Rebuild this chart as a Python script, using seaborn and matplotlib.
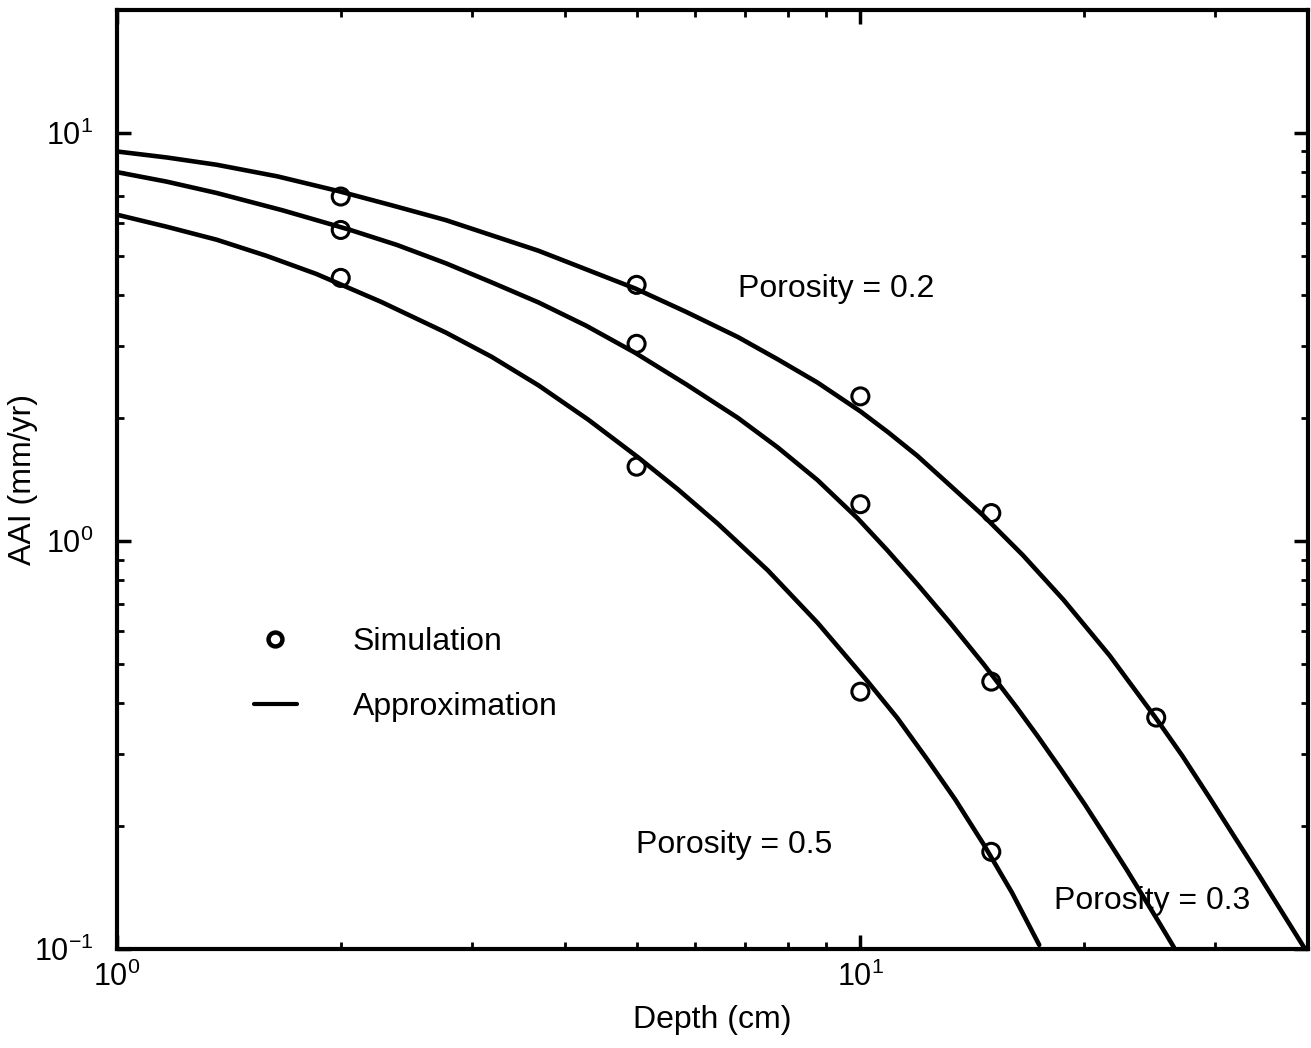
import numpy as np
import pandas as pd
import matplotlib
matplotlib.use("Agg")
import matplotlib.pyplot as plt
from matplotlib.lines import Line2D
from matplotlib.ticker import LogLocator, NullFormatter
import seaborn as sns

# Simulated AAI at discrete depths
sim_depth_02 = [2, 5, 10, 15, 25]
sim_aai_02 = [6.98, 4.24, 2.26, 1.17, 0.369]
sim_depth_03 = [2, 5, 10, 15]
sim_aai_03 = [5.78, 3.04, 1.23, 0.452]
sim_depth_05 = [2, 5, 10, 15]
sim_aai_05 = [4.41, 1.52, 0.427, 0.173]

# Approximation curves
app_depth_02 = [1.0, 1.167, 1.362, 1.644, 1.99, 2.344, 2.769, 3.69, 4.979, 5.83,
                6.84, 7.74, 8.757, 10.0, 10.9, 11.93, 13.2, 14.65, 16.54, 18.76,
                21.65, 25.01, 27.1, 29.49, 31.83, 34.41, 36.9, 39.54]
app_aai_02 = [9.00, 8.70, 8.35, 7.82, 7.19, 6.64, 6.11, 5.14, 4.154, 3.64,
              3.16, 2.786, 2.443, 2.077, 1.845, 1.616, 1.368, 1.151, 0.9225, 0.717,
              0.523, 0.3664, 0.2975, 0.2348, 0.1887, 0.1511, 0.1232, 0.1007]
app_depth_03 = [1.0, 1.167, 1.362, 1.669, 2.054, 2.381, 2.769, 3.192, 3.69, 4.28,
                4.973, 5.83, 6.84, 7.74, 8.757, 9.909, 10.87, 11.93, 13.2, 14.65,
                16.23, 17.32, 18.56, 20.03, 21.65, 22.8, 24.01, 25.17, 26.41]
app_aai_03 = [8.01, 7.59, 7.12, 6.46, 5.79, 5.31, 4.79, 4.30, 3.84, 3.365,
              2.893, 2.419, 2.003, 1.695, 1.409, 1.137, 0.9484, 0.783, 0.630, 0.4985,
              0.3905, 0.332, 0.2774, 0.2263, 0.1817, 0.1567, 0.1344, 0.1168, 0.1009]
app_depth_05 = [1.0, 1.167, 1.362, 1.589, 1.854, 2.266, 2.769, 3.192, 3.69, 4.306,
                5.024, 5.684, 6.433, 7.506, 8.757, 10.22, 11.21, 12.30, 13.41, 14.65,
                15.99, 17.40]
app_aai_05 = [6.30, 5.885, 5.47, 4.995, 4.51, 3.853, 3.24, 2.825, 2.405, 1.981,
              1.602, 1.337, 1.101, 0.847, 0.630, 0.453, 0.3683, 0.2915, 0.2326, 0.1804,
              0.1375, 0.1023]

sns.set_theme(style="ticks")
plt.rcParams["font.family"] = ["Liberation Sans", "DejaVu Sans"]
plt.rcParams["mathtext.fontset"] = "custom"
plt.rcParams["mathtext.rm"] = "Liberation Sans"
plt.rcParams["mathtext.it"] = "Liberation Sans"
plt.rcParams["mathtext.bf"] = "Liberation Sans"
for key in ["text.color", "axes.labelcolor", "xtick.color", "ytick.color", "axes.edgecolor"]:
    plt.rcParams[key] = "black"

fig = plt.figure(figsize=(13.11, 10.48), dpi=100)
ax = fig.add_axes([0.0892, 0.0945, 0.9085, 0.896])

curves = [(app_depth_02, app_aai_02), (app_depth_03, app_aai_03), (app_depth_05, app_aai_05)]
for d, a in curves:
    sns.lineplot(x=d, y=a, ax=ax, color="black", linewidth=3.3, sort=True, estimator=None)
for line in ax.lines:
    line.set_solid_joinstyle("round")

sims = [(sim_depth_02, sim_aai_02), (sim_depth_03, sim_aai_03), (sim_depth_05, sim_aai_05)]
for d, a in sims:
    sns.scatterplot(x=d, y=a, ax=ax, marker="o", s=150, facecolor="none",
                    edgecolor="black", linewidth=2.2, zorder=3)

ax.set_xscale("log")
ax.set_yscale("log")
ax.set_xlim(1, 40)
ax.set_ylim(0.1, 20)

for sp in ax.spines.values():
    sp.set_visible(True)
    sp.set_linewidth(3.0)
    sp.set_color("black")

ax.xaxis.set_major_locator(LogLocator(base=10, numticks=10))
ax.yaxis.set_major_locator(LogLocator(base=10, numticks=10))
ax.xaxis.set_minor_locator(LogLocator(base=10, subs=np.arange(2, 10), numticks=20))
ax.yaxis.set_minor_locator(LogLocator(base=10, subs=np.arange(2, 10), numticks=20))
ax.xaxis.set_minor_formatter(NullFormatter())
ax.yaxis.set_minor_formatter(NullFormatter())
ax.tick_params(which="major", direction="in", length=10, width=2.5, labelsize=22,
               top=True, right=True, colors="black")
ax.tick_params(axis="x", which="major", pad=9)
ax.tick_params(axis="y", which="major", pad=17)
ax.tick_params(which="minor", direction="in", length=5, width=2, top=True, right=True)

ax.set_xlabel("Depth (cm)", fontsize=23, labelpad=9)
ax.set_ylabel("AAI (mm/yr)", fontsize=23)
ax.yaxis.set_label_coords(-0.066, 0.5)

ax.text(6.84, 4.15, "Porosity = 0.2", fontsize=23, ha="left", va="center")
ax.text(4.99, 0.180, "Porosity = 0.5", fontsize=23, ha="left", va="center")
ax.text(18.2, 0.131, "Porosity = 0.3", fontsize=23, ha="left", va="center")

handles = [
    Line2D([], [], marker="o", linestyle="none", markersize=10, markerfacecolor="none",
           markeredgecolor="black", markeredgewidth=3.2),
    Line2D([], [], color="black", linewidth=3.0),
]
ax.legend(handles, ["Simulation", "Approximation"], loc="upper left",
          bbox_to_anchor=(0.115, 0.343), frameon=False, fontsize=23,
          handlelength=1.35, handletextpad=1.75, labelspacing=1.1, borderpad=0,
          borderaxespad=0)

fig.savefig("out.png", dpi=100, facecolor="white")
